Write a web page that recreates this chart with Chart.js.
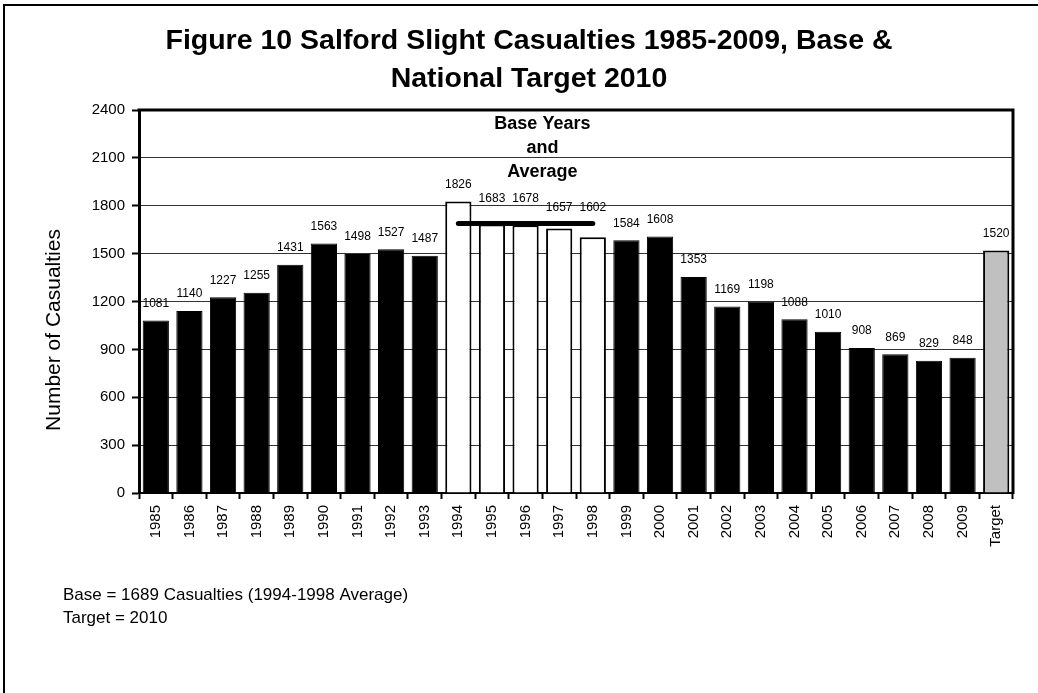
<!DOCTYPE html>
<html>
<head>
<meta charset="utf-8">
<script src="https://cdn.jsdelivr.net/npm/chart.js@4/dist/chart.umd.min.js"></script>
<style>
  html, body { margin: 0; padding: 0; background: #fff; }
  #wrap { width: 1038px; height: 693px; position: relative; }
</style>
</head>
<body>
<div id="wrap"><canvas id="c" width="1038" height="693"></canvas></div>
<script>
const categories = ['1985','1986','1987','1988','1989','1990','1991','1992','1993','1994','1995','1996','1997','1998','1999','2000','2001','2002','2003','2004','2005','2006','2007','2008','2009','Target'];
const casualties = [1081,1140,1227,1255,1431,1563,1498,1527,1487,1826,1683,1678,1657,1602,1584,1608,1353,1169,1198,1088,1010,908,869,829,848,1520];
const baseYears = ['1994','1995','1996','1997','1998'];
const baseAverage = 1689;
const yTicks = [0,300,600,900,1200,1500,1800,2100,2400];
const titleLines = ['Figure 10 Salford Slight Casualties 1985-2009, Base &', 'National Target 2010'];
const baseNoteLines = ['Base Years', 'and', 'Average'];
const footLines = ['Base = 1689 Casualties (1994-1998 Average)', 'Target = 2010'];
const yTitle = 'Number of Casualties';

const FONT = "'Liberation Sans', Arial, Helvetica, sans-serif";

const barFill = categories.map(c => c === 'Target' ? '#c0c0c0' : (baseYears.includes(c) ? '#ffffff' : '#000000'));
const barBorderW = categories.map(c => (c === 'Target' || baseYears.includes(c)) ? 2 : 1);
const avgLine = categories.map(c => baseYears.includes(c) ? baseAverage : null);

const decor = {
  id: 'decor',
  beforeDraw(chart) {
    const ctx = chart.ctx;
    ctx.save();
    ctx.fillStyle = '#fff';
    ctx.fillRect(0, 0, chart.width, chart.height);
    ctx.restore();
  },
  afterDraw(chart, args, opts) {
    const ctx = chart.ctx;
    const a = chart.chartArea;
    const xs = chart.scales.x;
    ctx.save();
    // outer frame (top & left)
    ctx.strokeStyle = '#000';
    ctx.lineWidth = 2;
    ctx.beginPath();
    ctx.moveTo(4, 693); ctx.lineTo(4, 5); ctx.lineTo(1038, 5);
    ctx.stroke();
    // plot frame top & right
    ctx.lineWidth = 3;
    ctx.beginPath();
    ctx.moveTo(a.left - 1.5, a.top); ctx.lineTo(a.right, a.top); ctx.lineTo(a.right, a.bottom + 1);
    ctx.stroke();
    // title
    ctx.fillStyle = '#000';
    ctx.textAlign = 'center';
    ctx.textBaseline = 'alphabetic';
    ctx.font = 'bold 28.5px ' + FONT;
    ctx.fillText(titleLines[0], 529, 48.5);
    ctx.fillText(titleLines[1], 529, 87);
    // base years note
    ctx.font = 'bold 18px ' + FONT;
    ctx.textBaseline = 'middle';
    const nx = (xs.getPixelForValue(11) + xs.getPixelForValue(12)) / 2;
    baseNoteLines.forEach((t, i) => ctx.fillText(t, nx, 124 + i * 24));
    // y axis title
    ctx.save();
    ctx.translate(54, 330);
    ctx.rotate(-Math.PI / 2);
    ctx.font = '21px ' + FONT;
    ctx.textAlign = 'center';
    ctx.textBaseline = 'middle';
    ctx.fillText(yTitle, 0, 0);
    ctx.restore();
    // footnotes
    ctx.font = '17px ' + FONT;
    ctx.textAlign = 'left';
    ctx.textBaseline = 'middle';
    footLines.forEach((t, i) => ctx.fillText(t, 63, 595 + i * 23));
    // value labels
    const meta = chart.getDatasetMeta(0);
    ctx.font = '12px ' + FONT;
    ctx.textAlign = 'center';
    ctx.textBaseline = 'middle';
    meta.data.forEach((el, i) => {
      const shift = opts.labelShift[categories[i]] || 0;
      ctx.fillText(String(casualties[i]), el.x, el.y - 17 + shift);
    });
    ctx.restore();
  }
};

new Chart(document.getElementById('c'), {
  type: 'bar',
  data: {
    labels: categories,
    datasets: [
      {
        type: 'bar',
        data: casualties,
        backgroundColor: barFill,
        borderColor: '#000',
        borderWidth: barBorderW,
        barPercentage: 0.78,
        categoryPercentage: 1.0,
        order: 2
      },
      {
        type: 'line',
        data: avgLine,
        borderColor: '#000',
        borderWidth: 5,
        borderCapStyle: 'round',
        pointRadius: 0,
        fill: false,
        spanGaps: false,
        order: 1
      }
    ]
  },
  options: {
    responsive: false,
    animation: false,
    devicePixelRatio: 1,
    layout: { padding: { top: 110, right: 25, bottom: 0, left: 0 } },
    plugins: {
      legend: { display: false },
      tooltip: { enabled: false },
      title: { display: false },
      decor: { labelShift: { '1995': -9, '1996': -10, '1997': -4, '1998': -13 } }
    },
    scales: {
      x: {
        offset: true,
        grid: { offset: true, drawOnChartArea: false, drawTicks: true, tickLength: 6, tickColor: '#000', tickWidth: 2 },
        border: { display: true, color: '#000', width: 2 },
        ticks: { maxRotation: 90, minRotation: 90, autoSkip: false, color: '#000', padding: 6, font: { size: 15, family: FONT } },
        afterFit: s => { s.height = 200; }
      },
      y: {
        min: 0,
        max: 2400,
        afterBuildTicks: s => { s.ticks = yTicks.map(v => ({ value: v })); },
        grid: { color: '#333', lineWidth: 1, tickColor: '#000', tickLength: 7, tickWidth: 2 },
        border: { display: true, color: '#000', width: 3 },
        ticks: { color: '#000', padding: 7, font: { size: 15, family: FONT }, callback: v => String(v) },
        afterFit: s => { s.width = 139; }
      }
    }
  },
  plugins: [decor]
});
</script>
</body>
</html>
